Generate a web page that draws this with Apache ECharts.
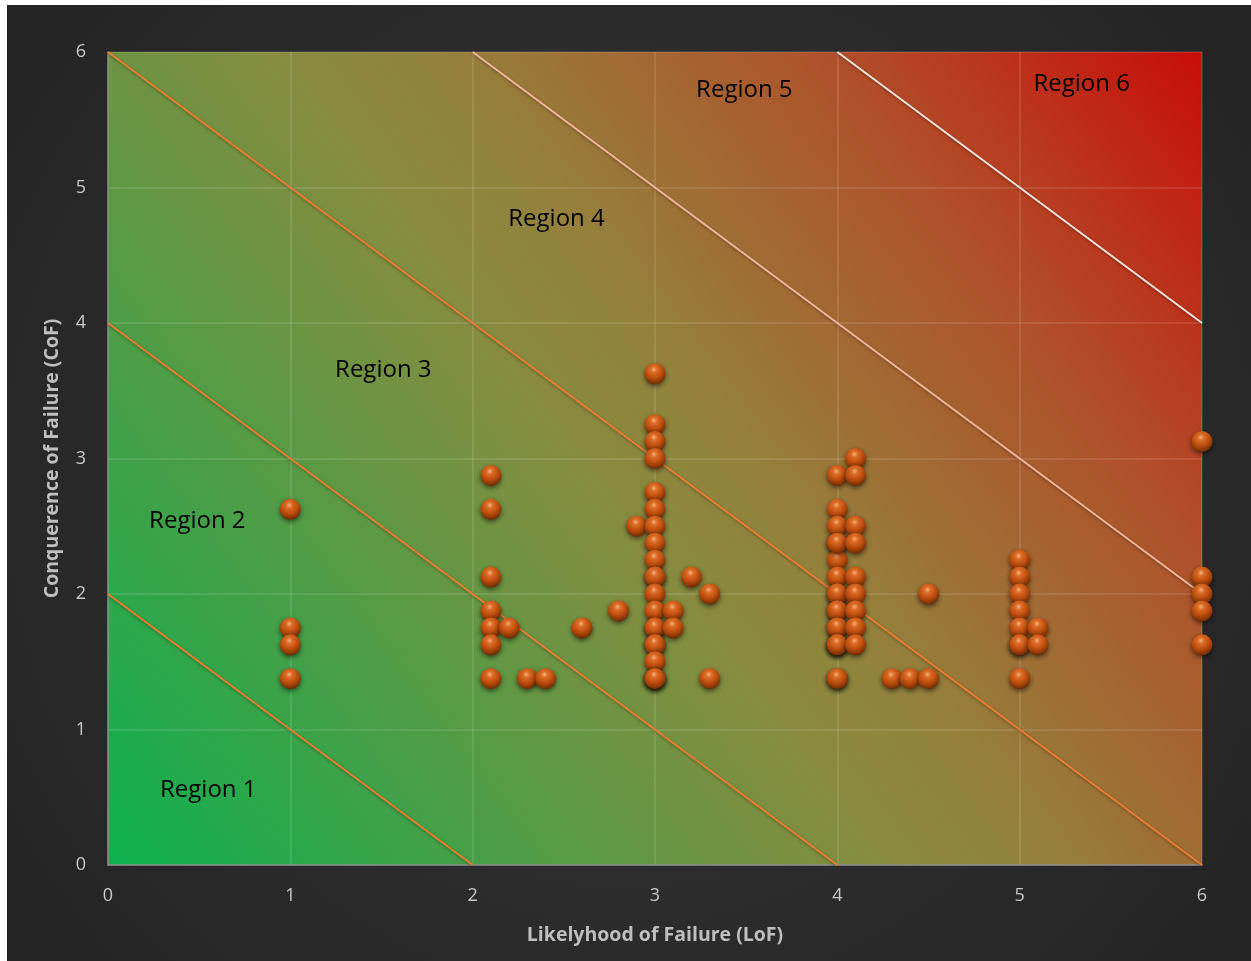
<!DOCTYPE html>
<html>
<head>
<meta charset="utf-8">
<script src="https://cdn.jsdelivr.net/npm/echarts@6/dist/echarts.min.js"></script>
<style>
  html, body { margin: 0; padding: 0; background: #ffffff; }
  #chart { position: absolute; left: 7px; top: 5px; width: 1244px; height: 956px; }
</style>
</head>
<body>
<div id="chart"></div>
<script>
// Assessed items: likelihood (LoF) and consequence (CoF) scores
const lofValues = [
  1, 1, 1, 1,
  2.1, 2.1, 2.1, 2.1, 2.1, 2.1, 2.1, 2.2, 2.3, 2.4, 2.6, 2.8, 2.9,
  3, 3, 3, 3, 3, 3, 3, 3, 3, 3, 3, 3, 3, 3, 3, 3, 3, 3, 3, 3, 3,
  3.1, 3.1, 3.2, 3.3, 3.3,
  4, 4, 4, 4, 4, 4, 4, 4, 4, 4, 4, 4, 4, 4, 4, 4, 4, 4,
  4.1, 4.1, 4.1, 4.1, 4.1, 4.1, 4.1, 4.1, 4.1,
  4.3, 4.4, 4.5, 4.5,
  5, 5, 5, 5, 5, 5, 5, 5, 5.1, 5.1,
  6, 6, 6, 6, 6
];
const cofValues = [
  2.625, 1.75, 1.625, 1.375,
  2.875, 2.625, 2.125, 1.875, 1.75, 1.625, 1.375, 1.75, 1.375, 1.375, 1.75, 1.875, 2.5,
  3.625, 3.25, 3.125, 3.0, 2.75, 2.625, 2.5, 2.375, 2.25, 2.125, 2.125, 2.0, 1.875, 1.75, 1.75, 1.625, 1.625, 1.5, 1.375, 1.375, 1.375,
  1.875, 1.75, 2.125, 2.0, 1.375,
  2.875, 2.625, 2.5, 2.375, 2.25, 2.125, 2.0, 2.0, 1.875, 1.875, 1.75, 1.75, 1.625, 1.625, 1.375, 1.375, 2.375, 1.625,
  3.0, 2.875, 2.5, 2.375, 2.125, 2.0, 1.875, 1.75, 1.625,
  1.375, 1.375, 1.375, 2.0,
  2.25, 2.125, 2.0, 1.875, 1.75, 1.625, 1.625, 1.375, 1.75, 1.625,
  3.125, 2.125, 2.0, 1.875, 1.625
];

// Region boundaries: lines LoF + CoF = constant
const boundarySums = [2, 4, 6, 8, 10];
const boundaryColors = ['#ed7d31', '#ed7d31', '#ed7d31', '#f4b69a', '#f6e4dc'];

// Region captions and where they sit (LoF, CoF)
const regionNames = ['Region 1', 'Region 2', 'Region 3', 'Region 4', 'Region 5', 'Region 6'];
const regionLoF = [0.55, 0.49, 1.51, 2.46, 3.49, 5.34];
const regionCoF = [0.55, 2.54, 3.65, 4.77, 5.72, 5.76];

const axisTicks = [0, 1, 2, 3, 4, 5, 6];

const chart = echarts.init(document.getElementById('chart'), null, { renderer: 'canvas' });

function boundaryPoints(s) {
  // clip the line x + y = s to the 0..6 square
  const x0 = Math.max(0, s - 6), x1 = Math.min(6, s);
  return [[x0, s - x0], [x1, s - x1]];
}

// glossy copper sphere
const sphere = new echarts.graphic.RadialGradient(0.45, 0.3, 0.75, [
  { offset: 0, color: '#f6b07c' },
  { offset: 0.2, color: '#dc6c26' },
  { offset: 0.55, color: '#bb4c0d' },
  { offset: 0.85, color: '#803305' },
  { offset: 1, color: '#5a2203' }
]);

const lineSeries = boundarySums.map((s, i) => ({
  type: 'line',
  data: boundaryPoints(s),
  symbol: 'none',
  silent: true,
  z: 3,
  lineStyle: {
    color: boundaryColors[i],
    width: 2,
    shadowColor: 'rgba(0,0,0,0.35)',
    shadowBlur: 3,
    shadowOffsetY: 1
  }
}));

const option = {
  backgroundColor: new echarts.graphic.RadialGradient(0.5, 0.5, 0.75, [
    { offset: 0, color: '#363636' },
    { offset: 1, color: '#252525' }
  ]),
  animation: false,
  grid: {
    left: 101, top: 47, right: 49, bottom: 96,
    show: true,
    borderWidth: 0,
    backgroundColor: new echarts.graphic.LinearGradient(0, 1, 1, 0, [
      { offset: 0, color: '#0cb14f' },
      { offset: 0.45, color: '#868c3f' },
      { offset: 0.55, color: '#94813c' },
      { offset: 0.78, color: '#b0502a' },
      { offset: 1, color: '#c80d08' }
    ])
  },
  xAxis: {
    type: 'value', min: 0, max: 6, interval: 1,
    name: 'Likelyhood of Failure (LoF)',
    nameLocation: 'middle', nameGap: 60,
    nameTextStyle: { color: '#bfbfbf', fontFamily: 'Open Sans', fontWeight: 'bold', fontSize: 19.5 },
    axisLine: { show: true, lineStyle: { color: '#8a8a8a', width: 1.5 } },
    axisTick: { show: false },
    axisLabel: { color: '#c8c8c8', fontFamily: 'Open Sans', fontSize: 18, margin: 22,
      formatter: v => axisTicks.includes(v) ? String(v) : '' },
    splitLine: { show: true, lineStyle: { color: 'rgba(255,255,255,0.14)', width: 1.5 } }
  },
  yAxis: {
    type: 'value', min: 0, max: 6, interval: 1,
    name: 'Conquerence of Failure (CoF)',
    nameLocation: 'middle', nameGap: 46,
    nameTextStyle: { color: '#bfbfbf', fontFamily: 'Open Sans', fontWeight: 'bold', fontSize: 19.5 },
    axisLine: { show: true, lineStyle: { color: '#8a8a8a', width: 1.5 } },
    axisTick: { show: false },
    axisLabel: { color: '#c8c8c8', fontFamily: 'Open Sans', fontSize: 18, margin: 22,
      formatter: v => axisTicks.includes(v) ? String(v) : '' },
    splitLine: { show: true, lineStyle: { color: 'rgba(255,255,255,0.14)', width: 1.5 } }
  },
  series: [
    ...lineSeries,
    {
      type: 'scatter',
      data: lofValues.map((x, i) => [x, cofValues[i]]),
      symbol: 'circle',
      symbolSize: 21,
      z: 5,
      itemStyle: {
        color: sphere,
        opacity: 1,
        shadowColor: 'rgba(0,0,0,0.55)',
        shadowBlur: 5,
        shadowOffsetY: 2
      }
    },
    {
      type: 'scatter',
      data: regionNames.map((n, i) => ({ name: n, value: [regionLoF[i], regionCoF[i]] })),
      symbolSize: 1,
      silent: true,
      z: 6,
      itemStyle: { opacity: 0 },
      label: {
        show: true,
        position: 'inside',
        formatter: p => p.name,
        color: '#000000',
        opacity: 1,
        fontFamily: 'Open Sans',
        fontSize: 24
      }
    }
  ]
};

chart.setOption(option);
</script>
</body>
</html>
